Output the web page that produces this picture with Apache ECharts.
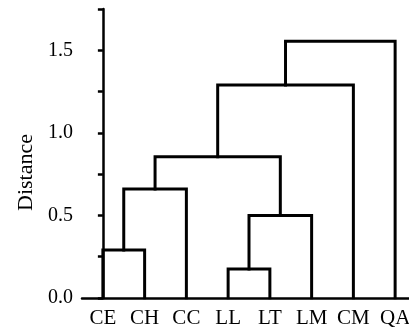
<!DOCTYPE html>
<html>
<head>
<meta charset="utf-8">
<script src="https://cdn.jsdelivr.net/npm/echarts@6/dist/echarts.min.js"></script>
<style>
html, body { margin: 0; padding: 0; background: #fff; }
#chart { width: 409px; height: 331px; }
</style>
</head>
<body>
<div id="chart"></div>
<script>
var leaves = ['CE', 'CH', 'CC', 'LL', 'LT', 'LM', 'CM', 'QA'];
// merges: [left node, right node, height]; leaves are 0..7, new clusters 8..
var mergeLeft = [0, 3, 8, 9, 10, 12, 13];
var mergeRight = [1, 4, 2, 5, 11, 6, 7];
var mergeHeight = [0.29, 0.175, 0.66, 0.50, 0.855, 1.29, 1.555];
var yTicks = [0, 0.5, 1.0, 1.5];

var font = "'Liberation Serif', 'Times New Roman', serif";

// node positions: x = leaf index / centre of children, y = merge height
var nodeX = leaves.map(function(_, i) { return i; });
var nodeY = leaves.map(function() { return 0; });
var series = [];
for (var i = 0; i < mergeHeight.length; i++) {
	var a = mergeLeft[i], b = mergeRight[i], h = mergeHeight[i];
	series.push({
		type: 'line',
		xAxisIndex: 1,
		symbol: 'none',
		silent: true,
		lineStyle: { color: '#000', width: 3, join: 'miter', cap: 'square' },
		data: [[nodeX[a], nodeY[a]], [nodeX[a], h], [nodeX[b], h], [nodeX[b], nodeY[b]]]
	});
	nodeX.push((nodeX[a] + nodeX[b]) / 2);
	nodeY.push(h);
}

var myChart = echarts.init(document.getElementById('chart'));
var option = {
	animation: false,
	grid: { left: 82, right: -7, top: 9, bottom: 33, outerBoundsMode: 'none', containLabel: false },
	xAxis: [{
		type: 'category',
		data: leaves,
		axisLine: { lineStyle: { color: '#000', width: 2.5 } },
		axisTick: { alignWithLabel: true, interval: 0, length: 5, lineStyle: { color: '#000', width: 2.5 } },
		axisLabel: { color: '#000', fontFamily: font, fontSize: 21, margin: 10, interval: 0, hideOverlap: false }
	}, {
		type: 'value',
		min: -0.5,
		max: 7.5,
		show: false
	}],
	yAxis: {
		type: 'value',
		min: 0,
		max: 1.75,
		interval: 0.25,
		name: 'Distance',
		nameLocation: 'middle',
		nameGap: 45,
		// name sits a bit below the axis middle in the original
		nameTextStyle: { color: '#000', fontFamily: font, fontSize: 22, padding: [0, 38, 0, 0] },
		splitLine: { show: false },
		axisLine: { show: true, lineStyle: { color: '#000', width: 2.5 } },
		axisTick: { show: true, length: 5, lineStyle: { color: '#000', width: 2.5 } },
		axisLabel: {
			color: '#000', fontFamily: font, fontSize: 20, margin: 9,
			formatter: function(v) {
				for (var k = 0; k < yTicks.length; k++) {
					if (Math.abs(v - yTicks[k]) < 1e-6) return yTicks[k].toFixed(1);
				}
				return '';
			}
		}
	},
	series: series
};
myChart.setOption(option);
</script>
</body>
</html>
